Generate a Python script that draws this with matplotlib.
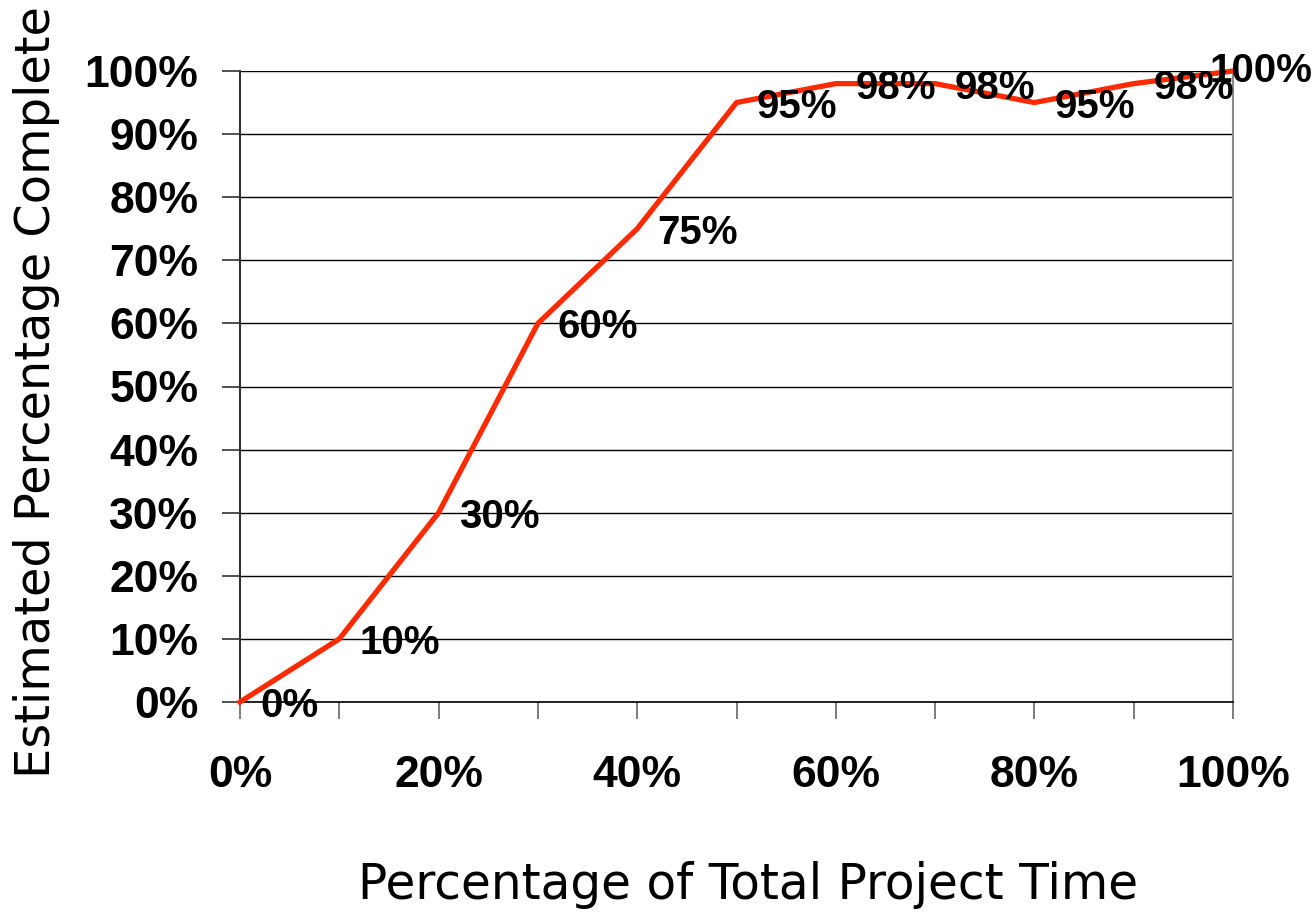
import matplotlib
matplotlib.use("Agg")
import matplotlib.pyplot as plt

x_vals = [0, 10, 20, 30, 40, 50, 60, 70, 80, 90, 100]
y_vals = [0, 10, 30, 60, 75, 95, 98, 98, 95, 98, 100]
x_tick_vals = [0, 10, 20, 30, 40, 50, 60, 70, 80, 90, 100]
x_tick_labels = ["0%", "", "20%", "", "40%", "", "60%", "", "80%", "", "100%"]
y_tick_vals = [0, 10, 20, 30, 40, 50, 60, 70, 80, 90, 100]
y_tick_labels = ["0%", "10%", "20%", "30%", "40%", "50%", "60%", "70%", "80%", "90%", "100%"]
x_label = "Percentage of Total Project Time"
y_label = "Estimated Percentage Complete"

fig = plt.figure(figsize=(13.15, 9.14), dpi=100)
ax = fig.add_axes([240/1315, 1-702/914, (1233-240)/1315, (702-71)/914])

ax.plot(x_vals, y_vals, color="#ff2a00", lw=3.8, solid_joinstyle="round", clip_on=False, zorder=3)

for xv, yv in zip(x_vals, y_vals):
    off = (20, -4)
    if xv == 100:
        off = (-23, 0)
    ax.annotate(f"{yv}%", (xv, yv), xytext=off, textcoords="offset pixels",
                ha="left", va="center", fontsize=29, fontweight="bold",
                family="Liberation Sans", color="black", zorder=4, annotation_clip=False)

ax.set_xlim(0, 100)
ax.set_ylim(0, 100)
ax.set_xticks(x_tick_vals)
ax.set_xticklabels(x_tick_labels)
ax.set_yticks(y_tick_vals)
ax.set_yticklabels(y_tick_labels)
for lab in ax.get_xticklabels() + ax.get_yticklabels():
    lab.set_family("Liberation Sans")
    lab.set_fontweight("bold")
    lab.set_fontsize(32)

ax.tick_params(axis="x", direction="out", length=12, width=1.2, color="#666666", pad=26)
ax.tick_params(axis="y", direction="out", length=13, width=1.2, color="#333333", pad=17)
ax.yaxis.grid(True, color="black", lw=1.0)
ax.set_axisbelow(True)

ax.spines["top"].set_visible(False)
ax.spines["left"].set_color("#333333")
ax.spines["left"].set_linewidth(1.5)
ax.spines["bottom"].set_color("black")
ax.spines["bottom"].set_linewidth(1.2)
ax.spines["right"].set_color("#888888")
ax.spines["right"].set_linewidth(1.5)

fig.text(748/1315, 1-885/914, x_label, ha="center", va="center", fontsize=35, family="DejaVu Sans")
fig.text(37/1315, 1-392/914, y_label, ha="center", va="center", rotation=90, fontsize=34.5, family="DejaVu Sans")

fig.savefig("out.png", dpi=100)
